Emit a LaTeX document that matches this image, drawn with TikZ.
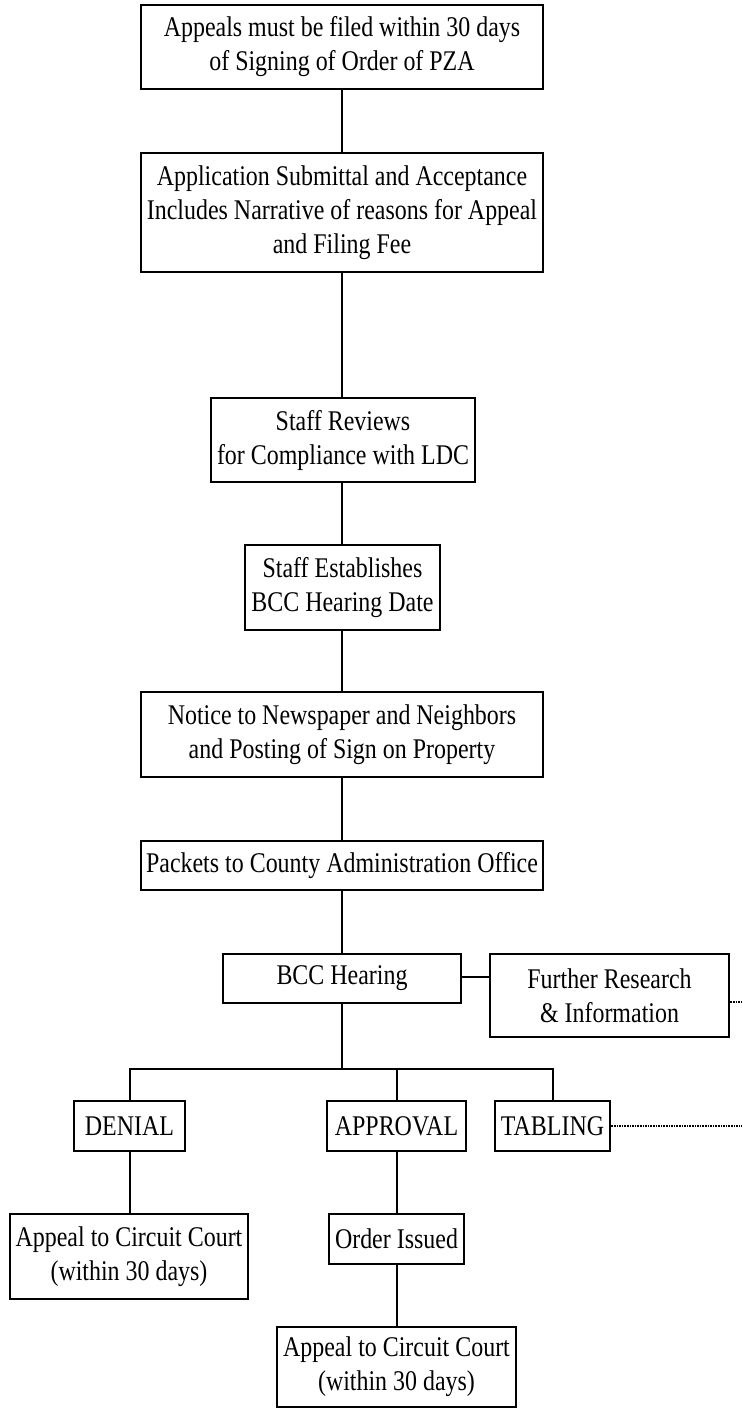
\documentclass[tikz,border=0pt]{standalone}
\usepackage{fontspec}
\setmainfont{Liberation Serif}[FakeStretch=0.84]
\begin{document}
\begin{tikzpicture}[x=1pt,y=-1pt,
  box/.style={draw,line width=2.6pt,align=center,inner sep=0pt,
    font=\fontsize{28.5}{34}\selectfont},
  conn/.style={line width=2pt},
  dotline/.style={line width=2.4pt,dash pattern=on 1.6pt off 1pt}]
\useasboundingbox (0,0) rectangle (742,1410);
\fill[white] (0,0) rectangle (742,1410);
\node[box,minimum width=402pt,minimum height=84pt] (b1) at (342,47) {Appeals must be filed within 30 days\\of Signing of Order of PZA};
\node[box,minimum width=402pt,minimum height=119pt] (b2) at (342,212.5) {Application Submittal and Acceptance\\Includes Narrative of reasons for Appeal\\and Filing Fee};
\node[box,minimum width=264pt,minimum height=84pt] (b3) at (343,440) {Staff Reviews\\for Compliance with LDC};
\node[box,minimum width=195pt,minimum height=85pt] (b4) at (342.5,587.5) {Staff Establishes\\BCC Hearing Date};
\node[box,minimum width=402pt,minimum height=85pt] (b5) at (342,734.5) {Notice to Newspaper and Neighbors\\and Posting of Sign on Property};
\node[box,minimum width=402pt,minimum height=49pt] (b6) at (342,865.5) {Packets to County Administration Office};
\node[box,minimum width=238pt,minimum height=49pt] (b7) at (342,978.5) {BCC Hearing};
\node[box,minimum width=239pt,minimum height=83pt] (b8) at (609.5,995.5) {Further Research\\\& Information};
\node[box,minimum width=111pt,minimum height=50pt] (den) at (129.5,1126) {DENIAL};
\node[box,minimum width=139pt,minimum height=50pt] (app) at (396.5,1126) {APPROVAL};
\node[box,minimum width=115pt,minimum height=50pt] (tab) at (552.5,1126) {TABLING};
\node[box,minimum width=238pt,minimum height=85pt] (ap1) at (129,1256.5) {Appeal to Circuit Court\\(within 30 days)};
\node[box,minimum width=135pt,minimum height=50pt] (ord) at (396.5,1239) {Order Issued};
\node[box,minimum width=239pt,minimum height=80pt] (ap2) at (396.5,1367) {Appeal to Circuit Court\\(within 30 days)};
\coordinate (bus) at (342,1069);
\coordinate (f1) at (742,1002);
\coordinate (f2) at (742,1126);
\draw[conn] (b1.south) -- (b1.south |- b2.north);
\draw[conn] (b2.south) -- (b2.south |- b3.north);
\draw[conn] (b3.south -| b1.south) -- (b1.south |- b4.north);
\draw[conn] (b4.south -| b1.south) -- (b1.south |- b5.north);
\draw[conn] (b5.south) -- (b5.south |- b6.north);
\draw[conn] (b6.south) -- (b6.south |- b7.north);
\draw[conn] (b7.east |- 0,977) -- (b8.west |- 0,977);
\draw[conn] (b7.south) -- (bus);
\draw[conn] (den.north) |- (bus) -| (tab.north);
\draw[conn] (app.north) -- (app.north |- bus);
\draw[conn] (den.south) -- (den.south |- ap1.north);
\draw[conn] (app.south) -- (app.south |- ord.north);
\draw[conn] (ord.south) -- (ord.south |- ap2.north);
\draw[dotline] (b8.east |- f1) -- (f1);
\draw[dotline] (tab.east) -- (f2);
\end{tikzpicture}
\end{document}
